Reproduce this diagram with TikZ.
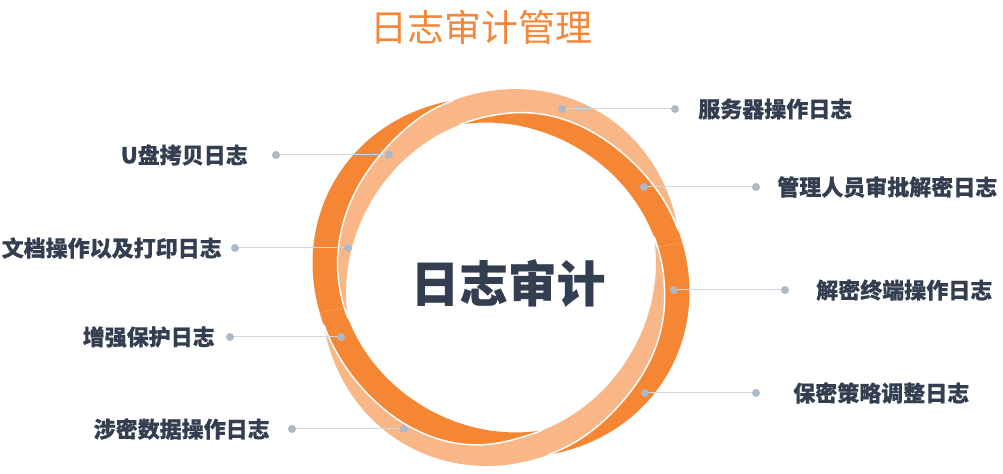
\documentclass[tikz,border=0pt]{standalone}
\usepackage{fontspec}
\newfontfamily\cjk[BoldFeatures={FakeBold=0.5}]{Noto Sans CJK SC}
\definecolor{darkor}{HTML}{F58634}
\definecolor{lightor}{HTML}{F9B787}
\definecolor{txt}{HTML}{333E50}
\definecolor{dotc}{HTML}{AEB9C8}
\definecolor{linec}{HTML}{D2D7E0}
\definecolor{titlec}{HTML}{F5873A}
\def\ra{180}
\def\rb{163}
\newcommand\myring[2]{%
  \begin{scope}[shift={(501,196.5)},rotate=#1]
    \draw[white,line width=20.6pt] (0,0) ellipse [x radius=\ra,y radius=\rb];
    \draw[#2,line width=18.75pt] (0,0) ellipse [x radius=\ra,y radius=\rb];
  \end{scope}}
\begin{document}
\begin{tikzpicture}[x=0.75pt,y=0.75pt,
  declare function={
    rl(\t)=\ra/sqrt((cos(\t-60))^2+(\ra/\rb)^2*(sin(\t-60))^2);
    rd(\t)=\ra/sqrt((cos(\t-150))^2+(\ra/\rb)^2*(sin(\t-150))^2);
    sm(\u)=(min(1,max(0,\u)))^2*(3-2*min(1,max(0,\u)));
    bA(\t)=(1-sm((\t-110)/55))*(rl(\t)+12.5)+sm((\t-110)/55)*(rd(\t)-12.5);
    bB(\t)=(1-sm((\t-230)/52))*(rd(\t)+12.5)+sm((\t-230)/52)*(rl(\t)-12.5);
    bC(\t)=(1-sm((\t-290)/70))*(rl(\t)+12.5)+sm((\t-290)/70)*(rd(\t)-12.5);
    bD(\t)=(1-sm((\t-20)/80))*(rd(\t)+12.5)+sm((\t-20)/80)*(rl(\t)-12.5);
  },
  dot/.style={circle,fill=dotc,inner sep=0pt,minimum size=6pt},
  lbl/.style={font=\cjk\bfseries\fontsize{16.5}{18}\selectfont,text=txt,inner sep=0pt},
  conn/.style={draw=linec,line width=0.75pt},
  wline/.style={white,line width=1.1pt,shift={(501,196.5)}}]
\useasboundingbox (0,0) rectangle (1003,474);
\fill[white] (0,0) rectangle (1003,474);
% rings: dark below, light above, dark on top with smooth switching
\myring{150}{darkor}
\myring{60}{lightor}
\begin{scope}
  \clip[shift={(501,196.5)}] plot[domain=105:199,samples=60] (\x:{bA(\x)}) -- (199:330) -- (150:330) -- (105:330) -- cycle;
  \myring{150}{darkor}
\end{scope}
\begin{scope}
  \clip[shift={(501,196.5)}] (0,0) -- plot[domain=191:285,samples=60] (\x:{bB(\x)}) -- cycle;
  \myring{150}{darkor}
\end{scope}
\begin{scope}
  \clip[shift={(501,196.5)}] plot[domain=285:379,samples=60] (\x:{bC(\x)}) -- (379:330) -- (330:330) -- (285:330) -- cycle;
  \myring{150}{darkor}
\end{scope}
\begin{scope}
  \clip[shift={(501,196.5)}] (0,0) -- plot[domain=11:105,samples=60] (\x:{bD(\x)}) -- cycle;
  \myring{150}{darkor}
\end{scope}
\draw[wline] plot[domain=105:195,samples=60] (\x:{bA(\x)});
\draw[wline] plot[domain=195:285,samples=60] (\x:{bB(\x)});
\draw[wline] plot[domain=285:375,samples=60] (\x:{bC(\x)});
\draw[wline] plot[domain=15:105,samples=60] (\x:{bD(\x)});
% title and centre
\node[font=\cjk\fontsize{27.75}{30}\selectfont,text=titlec,inner sep=0pt] (title) at (481,447) {日志审计管理};
\node[font=\cjk\bfseries\fontsize{36.5}{40}\selectfont,text=txt,inner sep=0pt] (centre) at (508,191) {日志审计};
% ring dots and end dots
\coordinate (r1) at (562,365); \coordinate (e1) at (675,365);
\coordinate (r2) at (644,287); \coordinate (e2) at (756,287);
\coordinate (r3) at (674,184); \coordinate (e3) at (785,184);
\coordinate (r4) at (645,81);  \coordinate (e4) at (756,81);
\coordinate (r5) at (389,319); \coordinate (e5) at (276,319);
\coordinate (r6) at (348,226); \coordinate (e6) at (235,226);
\coordinate (r7) at (341,137); \coordinate (e7) at (230,137);
\coordinate (r8) at (404,45);  \coordinate (e8) at (292,45);
\foreach \i in {1,...,8}{\draw[conn] (r\i) -- (e\i);}
\foreach \i in {1,...,8}{\node[dot] (dr\i) at (r\i) {}; \node[dot] (de\i) at (e\i) {};}
% labels
\node[lbl,anchor=west] (l1) at (698,365) {服务器操作日志};
\node[lbl,anchor=west] (l2) at (777,287) {管理人员审批解密日志};
\node[lbl,anchor=west] (l3) at (816,184) {解密终端操作日志};
\node[lbl,anchor=west] (l4) at (793,81) {保密策略调整日志};
\node[lbl,anchor=east] (l5) at (248,319) {U盘拷贝日志};
\node[lbl,anchor=east] (l6) at (222,226) {文档操作以及打印日志};
\node[lbl,anchor=east] (l7) at (215,137) {增强保护日志};
\node[lbl,anchor=east] (l8) at (270,45) {涉密数据操作日志};
\end{tikzpicture}
\end{document}
